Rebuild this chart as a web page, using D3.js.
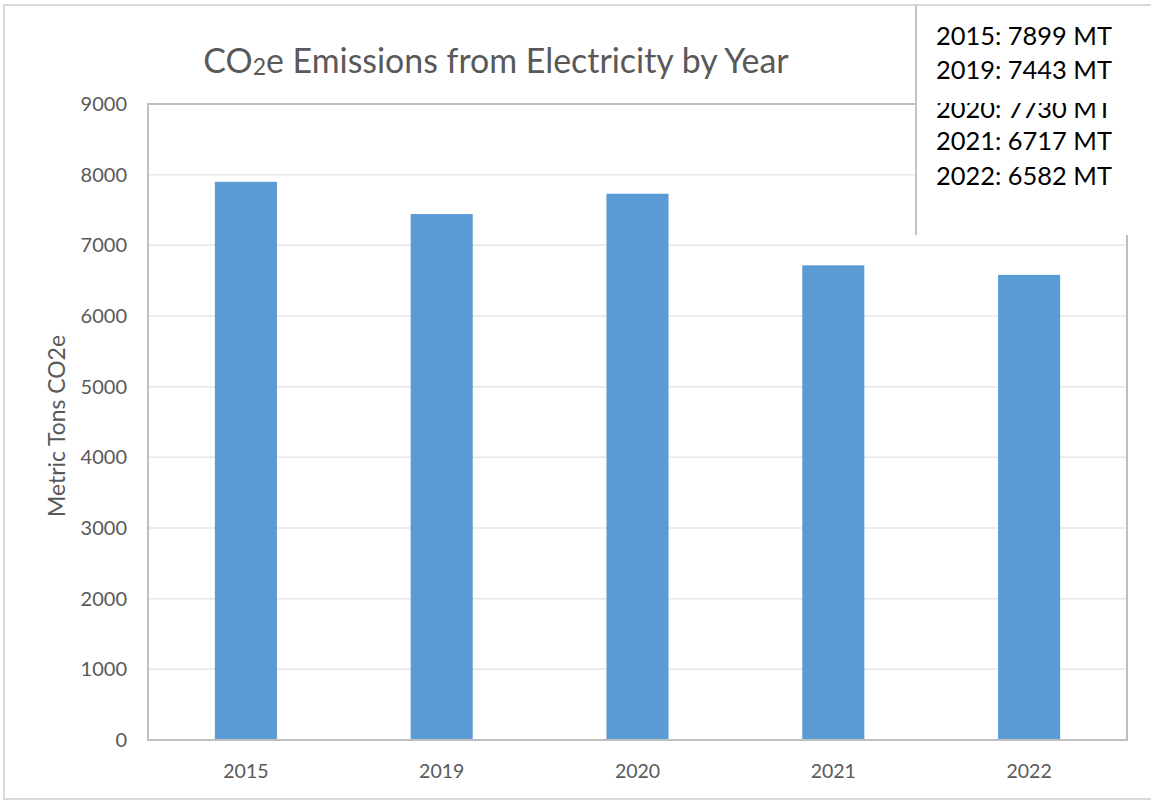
<!DOCTYPE html>
<html>
<head>
<meta charset="utf-8">
<script src="https://cdn.jsdelivr.net/npm/d3@7"></script>
<style>
  html, body { margin: 0; padding: 0; background: #fff; }
  svg { display: block; }
</style>
</head>
<body>
<svg id="chart" width="1151" height="801"></svg>
<script>
// ---- data ----
const categories = ["2015", "2019", "2020", "2021", "2022"];
const emissions = [7899, 7443, 7730, 6717, 6582];
const yTicks = [0, 1000, 2000, 3000, 4000, 5000, 6000, 7000, 8000, 9000];
const noteLines = ["2015: 7899 MT", "2019: 7443 MT", "2020: 7730 MT", "2021: 6717 MT", "2022: 6582 MT"];
const titleParts = ["CO", "2", "e Emissions from Electricity by Year"];
const yAxisTitle = "Metric Tons CO2e";

// ---- layout ----
const W = 1151, H = 801;
const plot = { left: 148, top: 104, right: 1127, bottom: 740 };
const font = "Lato, 'Open Sans', sans-serif";
const grey = "#595959";

const svg = d3.select("#chart");

function fit(sel, target) {
  const n = sel.node();
  const fs = parseFloat(sel.attr("font-size"));
  const w = n.getComputedTextLength ? n.getComputedTextLength() : n.getBBox().width;
  if (w > 0) sel.attr("font-size", (fs * target / w).toFixed(2));
}
function fitBBox(sel, target) {
  const fs = parseFloat(sel.attr("font-size"));
  const w = sel.node().getBBox().width;
  if (w > 0) sel.attr("font-size", (fs * target / w).toFixed(2));
}

// outer chart border
svg.append("rect")
  .attr("x", 4).attr("y", 5).attr("width", W + 10).attr("height", 794)
  .attr("fill", "#fff").attr("stroke", "#D9D9D9").attr("stroke-width", 2);

const x = d3.scaleBand().domain(categories)
  .range([plot.left, plot.right]).paddingInner(0.683).paddingOuter(0.683 / 2);
const y = d3.scaleLinear().domain([0, 9000]).range([plot.bottom, plot.top]);

// gridlines
svg.append("g").selectAll("line").data(yTicks.filter(d => d > 0 && d < 9000)).join("line")
  .attr("x1", plot.left).attr("x2", plot.right)
  .attr("y1", d => y(d)).attr("y2", d => y(d))
  .attr("stroke", "#E6E6E6").attr("stroke-width", 1.5);

// bars
svg.append("g").selectAll("rect").data(categories).join("rect")
  .attr("x", d => x(d)).attr("width", x.bandwidth())
  .attr("y", (d, i) => y(emissions[i]))
  .attr("height", (d, i) => y(0) - y(emissions[i]))
  .attr("fill", "#5B9BD5");

// plot area border
svg.append("rect")
  .attr("x", plot.left).attr("y", plot.top)
  .attr("width", plot.right - plot.left).attr("height", plot.bottom - plot.top)
  .attr("fill", "none").attr("stroke", "#BFBFBF").attr("stroke-width", 2);

// y axis ticks
const yAxis = d3.axisLeft(y).tickValues(yTicks).tickSize(0).tickPadding(21).tickFormat(d3.format("d"));
const gy = svg.append("g").attr("transform", `translate(${plot.left},0)`).call(yAxis);
gy.select(".domain").remove();
gy.selectAll("text").attr("font-family", font).attr("font-size", 20).attr("fill", grey);

// x axis labels
const xAxis = d3.axisBottom(x).tickSize(0).tickPadding(24);
const gx = svg.append("g").attr("transform", `translate(0,${plot.bottom})`).call(xAxis);
gx.select(".domain").remove();
gx.selectAll("text").attr("font-family", font).attr("font-size", 19.5).attr("fill", grey);

// y axis title
const yt = svg.append("text")
  .attr("transform", "translate(65,426) rotate(-90)")
  .attr("text-anchor", "middle")
  .attr("font-family", font).attr("font-size", 20).attr("fill", grey)
  .text(yAxisTitle);
fit(yt, 182);

// title
const title = svg.append("text")
  .attr("x", 496).attr("y", 73)
  .attr("text-anchor", "middle")
  .attr("font-family", font).attr("font-size", 29).attr("fill", grey);
title.append("tspan").text(titleParts[0]);
title.append("tspan").attr("font-size", "0.68em").attr("dy", 2).text(titleParts[1]);
title.append("tspan").attr("dy", -2).text(titleParts[2]);
fitBBox(title, 586);

// note text box overlay
svg.append("rect")
  .attr("x", 916).attr("y", 5).attr("width", 260).attr("height", 230)
  .attr("fill", "#fff");
svg.append("line")
  .attr("x1", 916).attr("x2", 916).attr("y1", 5).attr("y2", 235)
  .attr("stroke", "#C4C4C4").attr("stroke-width", 2);
svg.append("line")
  .attr("x1", 916).attr("x2", W).attr("y1", 5).attr("y2", 5)
  .attr("stroke", "#D9D9D9").attr("stroke-width", 2);

svg.append("defs").append("clipPath").attr("id", "clip3")
  .append("rect").attr("x", 900).attr("y", 103).attr("width", 260).attr("height", 40);

const baselines = [45, 79, 118, 150, 185];
const notes = svg.append("g").selectAll("text").data(noteLines).join("text")
  .attr("x", 936).attr("y", (d, i) => baselines[i])
  .attr("font-family", font).attr("font-size", 26).attr("fill", "#000")
  .attr("clip-path", (d, i) => i === 2 ? "url(#clip3)" : null)
  .text(d => d);
notes.each(function () { fit(d3.select(this), 176); });
</script>
</body>
</html>
